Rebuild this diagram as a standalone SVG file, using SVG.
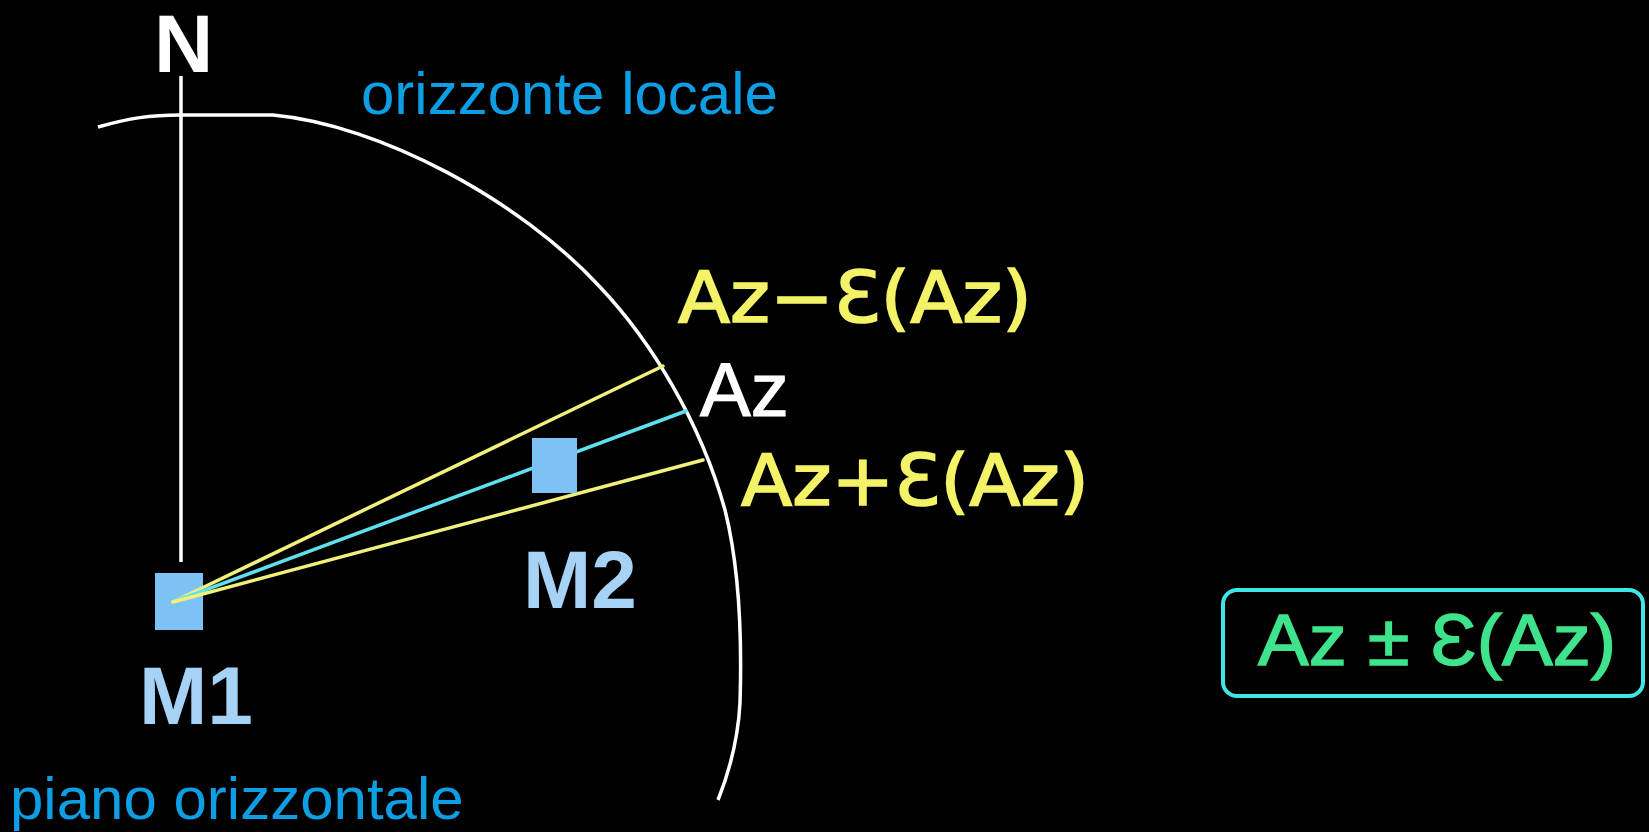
<svg xmlns="http://www.w3.org/2000/svg" width="1649" height="832" viewBox="0 0 1649 832">
<style>
.blue{fill:#0d9ee3;font-family:"Liberation Sans",Arial,sans-serif;font-size:60px}
.lbl{fill:#a6d2f6;font-family:"Liberation Sans",Arial,sans-serif;font-weight:bold;font-size:82px}
.yel{fill:#f4f266;stroke:#f4f266;stroke-width:1.6px;font-family:"DejaVu Sans","Liberation Sans",sans-serif;font-size:71px}
.sq{fill:#7cc2f4}
.ray{fill:none;stroke-width:3.5;stroke-linecap:round}
</style>
<rect x="0" y="0" width="1649" height="832" fill="#000"/>
<g id="north">
<line x1="181" y1="76" x2="181" y2="562" stroke="#fff" stroke-width="3.5"/>
<text x="154" y="72" fill="#fff" font-family="Liberation Sans,Arial,sans-serif" font-weight="bold" font-size="82">N</text>
</g>
<g id="horizon">
<path d="M98,127 C130,118 150,115 180,115 L273,115 C380,125 520,200 600,287 C650,340 700,420 725,510 C740,570 742,640 740,703 C738,740 730,770 718,800" fill="none" stroke="#fff" stroke-width="3.5"/>
<text class="blue" x="361" y="114">orizzonte locale</text>
</g>
<g id="plane">
<text class="blue" x="10" y="819" font-size="59">piano orizzontale</text>
</g>
<g id="M1">
<rect class="sq" x="155" y="573" width="48" height="57"/>
<text class="lbl" x="139" y="724">M1</text>
</g>
<g id="connectors">
<line class="ray" x1="173" y1="602" x2="663" y2="366" stroke="#f2f07a"/>
<line class="ray" x1="173" y1="602" x2="686" y2="411" stroke="#5fe0f0"/>
<line class="ray" x1="173" y1="602" x2="703" y2="460" stroke="#f2f07a"/>
</g>
<g id="M2">
<rect class="sq" x="532" y="438" width="45" height="55"/>
<text class="lbl" x="523" y="608">M2</text>
</g>
<g id="labels">
<text class="yel" x="678" y="322" textLength="354" lengthAdjust="spacingAndGlyphs">Az−Ɛ(Az)</text>
<text x="700" y="416" fill="#fff" stroke="#fff" stroke-width="1.2" font-family="Liberation Sans,Arial,sans-serif" font-size="76">Az</text>
<text class="yel" x="741" y="505" textLength="348" lengthAdjust="spacingAndGlyphs">Az+Ɛ(Az)</text>
</g>
<g id="result">
<rect x="1223" y="590" width="420" height="106" rx="14" ry="14" fill="#000" stroke="#40e6e6" stroke-width="4"/>
<text x="1258" y="665" fill="#3fe38c" stroke="#3fe38c" stroke-width="1.4" font-family="Liberation Sans,Arial,DejaVu Sans,sans-serif" font-size="72" textLength="358" lengthAdjust="spacingAndGlyphs">Az ± Ɛ(Az)</text>
</g>
</svg>
